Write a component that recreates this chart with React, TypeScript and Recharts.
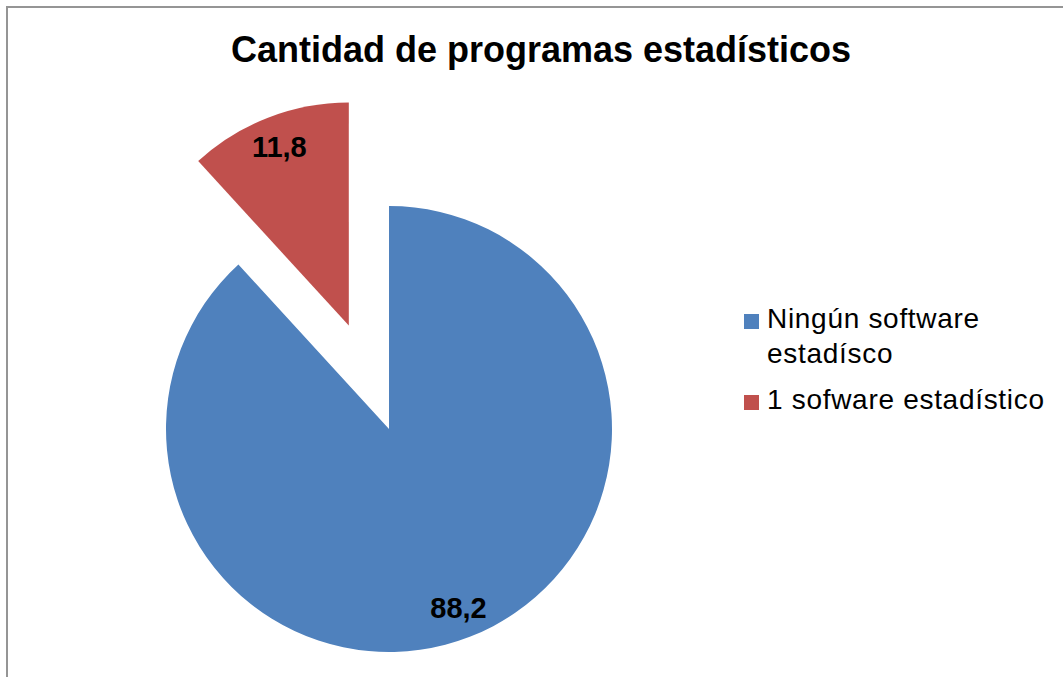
import React from 'react';
import { PieChart, Pie, Cell, Legend } from 'recharts';

const CATEGORIES = ['Ningún software estadísco', '1 sofware estadístico'];
const VALUES = [88.2, 11.8];
const COLORS = ['#4f81bd', '#c0504d'];
const EXPLODED = 1; // slice that is pulled out of the pie

const W = 1063;
const H = 677;
const CX = 389;
const CY = 429;
const R = 223;
const EXPLODE_DIST = 111;
const RADIAN = Math.PI / 180;
const FONT = '"Liberation Sans", Arial, sans-serif';

const data = CATEGORIES.map((name, i) => ({ name, value: VALUES[i] }));

// pie starts at 12 o'clock and runs clockwise, so push the exploded slice out along its mid angle
const total = VALUES.reduce((a, b) => a + b, 0);
const before = VALUES.slice(0, EXPLODED).reduce((a, b) => a + b, 0);
const midAngle = 90 - ((before + VALUES[EXPLODED] / 2) / total) * 360;
const EX = CX + EXPLODE_DIST * Math.cos(midAngle * RADIAN);
const EY = CY - EXPLODE_DIST * Math.sin(midAngle * RADIAN);

const makeLabel = (show: number) => (props: any) => {
  if (props.index !== show) return <g />;
  const r = props.outerRadius * 0.86;
  const x = props.cx + r * Math.cos(-props.midAngle * RADIAN);
  const y = props.cy + r * Math.sin(-props.midAngle * RADIAN);
  return (
    <text x={x} y={y} textAnchor="middle" dominantBaseline="central" fontSize={29} fontWeight="bold" fill="#000" fontFamily={FONT}>
      {String(props.value).replace('.', ',')}
    </text>
  );
};

const LegendContent = () => (
  <div style={{ fontFamily: FONT, fontSize: 28, letterSpacing: 0.7, lineHeight: '35px', color: '#000' }}>
    {CATEGORIES.map((name, i) => (
      <div key={name} style={{ display: 'flex', alignItems: 'flex-start', marginBottom: 11 }}>
        <span style={{ width: 15, height: 15, background: COLORS[i], marginTop: 12.5, marginRight: 8, flexShrink: 0 }} />
        <span>{name}</span>
      </div>
    ))}
  </div>
);

export default function App() {
  return (
    <div style={{ position: 'absolute', left: 0, top: 0, width: W, height: H, overflow: 'hidden', background: '#fff' }}>
      <div style={{ position: 'absolute', left: 6, top: 6, width: 1100, height: 720, border: '2px solid #959595' }} />
      <div
        style={{
          position: 'absolute', left: 0, top: 29, width: 1082, textAlign: 'center',
          fontFamily: FONT, fontSize: 36, fontWeight: 'bold', color: '#000',
        }}
      >
        Cantidad de programas estadísticos
      </div>
      <div style={{ position: 'absolute', left: 0, top: 0 }}>
        <PieChart width={W} height={H} margin={{ top: 0, right: 0, bottom: 0, left: 0 }}>
          <Pie
            data={data} dataKey="value" nameKey="name" cx={CX} cy={CY} outerRadius={R}
            startAngle={90} endAngle={-270} stroke="none" labelLine={false}
            label={makeLabel(0)} isAnimationActive={false}
          >
            {data.map((d, i) => (
              <Cell key={d.name} fill={i === EXPLODED ? 'transparent' : COLORS[i]} />
            ))}
          </Pie>
          <Pie
            data={data} dataKey="value" nameKey="name" cx={EX} cy={EY} outerRadius={R}
            startAngle={90} endAngle={-270} stroke="none" labelLine={false}
            label={makeLabel(EXPLODED)} isAnimationActive={false} legendType="none"
          >
            {data.map((d, i) => (
              <Cell key={d.name} fill={i === EXPLODED ? COLORS[i] : 'transparent'} />
            ))}
          </Pie>
          <Legend content={<LegendContent />} wrapperStyle={{ left: 744, top: 301, width: 315 }} />
        </PieChart>
      </div>
    </div>
  );
}
